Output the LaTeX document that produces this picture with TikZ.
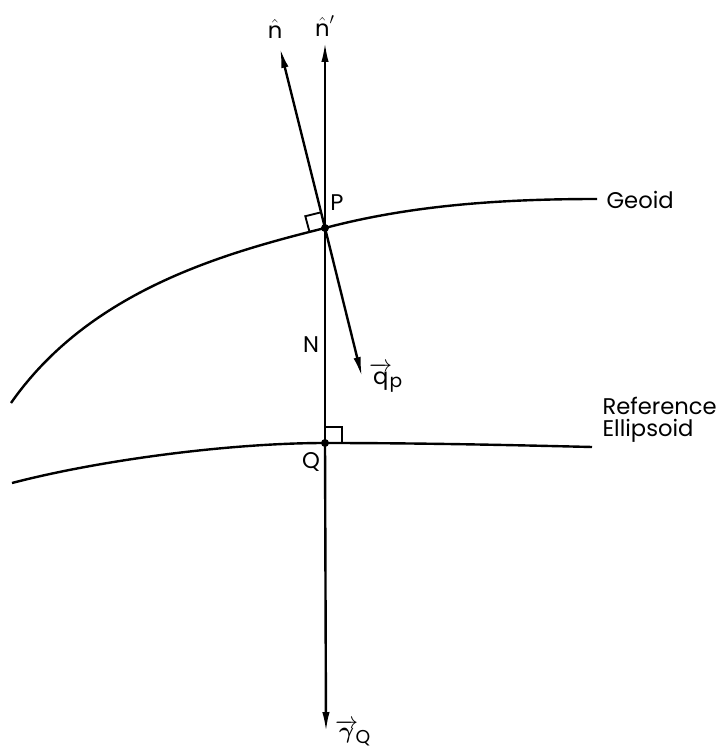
\documentclass[tikz,border=0pt]{standalone}
\usepackage{amsmath,amssymb}
\usepackage{bm}
\usepackage{fontspec}
\setmainfont{Poppins}
\usetikzlibrary{arrows.meta,calc}
\begin{document}
\begin{tikzpicture}[x=0.75pt,y=-0.75pt,
  line/.style={line width=1.8pt},
  arr/.style={line, -{Latex[length=15pt,width=5.5pt]}},
  lbl/.style={font=\fontsize{17}{16}\selectfont, inner sep=1pt},
  dotmark/.style={circle, fill, inner sep=0pt, minimum size=6pt}]
\useasboundingbox (0,0) rectangle (725,752);
% key points
\coordinate (P) at (325,228);
\coordinate (Q) at (325,443);
\coordinate (ntip) at (280,48);
\coordinate (nptip) at (325,42);
\coordinate (qtip) at (362,377);
\coordinate (gtip) at (326,732);
\coordinate (gL) at (11,403);
\coordinate (gR) at (597,199);
\coordinate (eL) at (12,483);
\coordinate (eR) at (592,447);
% surfaces
\draw[line] (gL) .. controls (90,290) and (225,253) .. (P)
            .. controls (415,204) and (510,199) .. (gR);
\draw[line] (eL) .. controls (100,460) and (230,443) .. (Q)
            .. controls (420,443) and (510,445) .. (eR);
% normals / vectors
\draw[arr] (P) -- (ntip);
\draw[arr] (P) -- (qtip);
\draw[arr] (Q) -- (nptip);
\draw[arr] (Q) -- (gtip);
% right angle marks
\draw[line width=1.4pt] (309.5,231.8) -- (305.3,216.2) -- (320.8,212.4);
\draw[line width=1.4pt] (325,427) -- (342,427) -- (342,443);
% points
\node[dotmark] (Pdot) at (P) {};
\node[dotmark] (Qdot) at (Q) {};
% labels
\node[lbl] (nlab) at (275,29) {$\hat{\mbox{n}}$};
\node[lbl] (nplab) at (325,26) {$\hat{\mbox{n}}'$};
\node[lbl] (Plab) at (337,203) {P};
\node[lbl] (Nlab) at (311,345) {N};
\node[lbl] (Qlab) at (311,462) {Q};
\node[lbl] (qlab) at (386,378) {$\overrightarrow{\mbox{q}}_{\!\mbox{\fontsize{14}{14}\selectfont p}}$};
\node[lbl] (glab) at (353,733) {$\overrightarrow{\bm{\gamma}}_{\!\mbox{\fontsize{14}{14}\selectfont Q}}$};
\node[lbl, anchor=base west] (geoid) at (605,209) {Geoid};
\node[lbl, anchor=base west, align=left] (ref) at (601,436) {Reference\\Ellipsoid};
\end{tikzpicture}
\end{document}
